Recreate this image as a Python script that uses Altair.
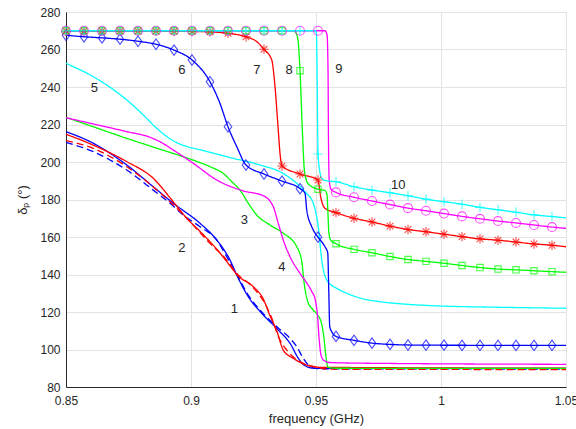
import altair as alt
import pandas as pd

# ---------------- data ----------------
# marker abscissae (GHz)
mk_x = [0.85, 0.8572, 0.8644, 0.8716, 0.8788, 0.886, 0.8932, 0.9004, 0.9076, 0.9148,
        0.922, 0.9292, 0.9364, 0.9436, 0.9508, 0.958, 0.9652, 0.9724, 0.9796, 0.9868,
        0.994, 1.0012, 1.0084, 1.0156, 1.0228, 1.03, 1.0372, 1.0444]

# curve 1 (blue solid / dashed)
c1_x = [0.85, 0.8609, 0.8743, 0.8849, 0.8929, 0.9036, 0.9103, 0.9156, 0.9183,
        0.9229, 0.9283, 0.9349, 0.9400, 0.9426, 0.9452, 0.9490, 0.96, 1.05]
c1_y = [216.2, 210.0, 198.4, 186.8, 178.0, 167.3, 158.4, 147.7, 139.7,
        128.2, 119.3, 110.4, 102.5, 96.0, 91.7, 90.0, 89.9, 89.9]
c1d_x = [0.85, 0.8609, 0.8743, 0.8849, 0.8916, 0.8969, 0.9036, 0.9103, 0.9143, 0.918,
         0.9229, 0.9283, 0.9349, 0.9396, 0.9423, 0.9449, 0.9476, 0.951, 1.05]
c1d_y = [210.5, 205.5, 195.7, 185.0, 178.0, 171.7, 165.5, 158.4, 149.5, 141.0,
         129.0, 120.0, 111.5, 106.0, 101.5, 95.3, 91.0, 89.7, 89.6]
# curve 2 (red solid / dashed)
c2_x = [0.85, 0.8609, 0.8743, 0.8849, 0.8929, 0.8983, 0.9036, 0.9103, 0.9169, 0.9183,
        0.9249, 0.9289, 0.9316, 0.9343, 0.9369, 0.9409, 0.9463, 0.9516, 1.05]
c2_y = [214.8, 209.0, 200.2, 191.3, 178.8, 170.0, 163.0, 153.5, 142.4, 140.0,
        133.5, 127.0, 118.0, 110.0, 99.7, 95.3, 91.7, 90.5, 90.0]
c2d_x = [0.85, 0.8609, 0.8743, 0.8916, 0.8983, 0.9076, 0.9143, 0.918, 0.9249, 0.9289,
         0.9316, 0.9356, 0.9383, 0.9449, 0.9489, 0.955, 1.05]
c2d_y = [211.4, 207.3, 197.5, 178.8, 170.0, 156.6, 147.7, 141.0, 133.0, 126.0,
         119.0, 105.0, 99.7, 92.6, 91.0, 89.5, 89.3]
# curve 3 (green)
c3_x = [0.85, 0.8609, 0.8743, 0.8876, 0.9009, 0.9076, 0.9129, 0.9163, 0.9196, 0.9229,
        0.9263, 0.9316, 0.9369, 0.9423, 0.9443, 0.9453, 0.9466, 0.9486, 0.9506, 0.9522,
        0.9532, 0.954, 0.9548, 0.958, 1.05]
c3_y = [223.8, 218.8, 212.6, 206.8, 201.0, 197.5, 193.9, 189.5, 185.0, 178.0,
        171.7, 166.4, 162.0, 154.8, 147.0, 135.0, 126.0, 121.5, 118.5, 114.0,
        106.0, 96.0, 90.5, 90.0, 89.9]
# curve 4 (magenta)
c4_x = [0.85, 0.8609, 0.8743, 0.8836, 0.8876, 0.8929, 0.9009, 0.9103, 0.9209, 0.9289,
        0.9329, 0.9349, 0.9369, 0.9396, 0.9436, 0.9463, 0.9483, 0.9496, 0.9506, 0.9513,
        0.952, 0.9533, 0.956, 0.976, 1.05]
c4_y = [223.6, 220.3, 216.2, 213.2, 210.8, 206.4, 199.3, 190.4, 184.6, 182.0,
        176.2, 167.3, 158.4, 149.5, 140.6, 135.5, 131.0, 127.0, 118.0, 105.0,
        97.0, 94.0, 93.0, 92.6, 92.1]
# curve 5 (cyan)
c5_x = [0.85, 0.8609, 0.8743, 0.8809, 0.8863, 0.8903, 0.8943, 0.8983, 0.9043, 0.9143,
        0.9276, 0.9356, 0.9396, 0.9436, 0.9460, 0.9489, 0.9509, 0.9523, 0.9543, 0.9583,
        0.9623, 0.968, 0.9756, 0.9876, 0.9996, 1.02, 1.05]
c5_y = [252.6, 245.5, 233.1, 225.1, 218.0, 213.6, 210.3, 208.3, 206.3, 202.8,
        198.4, 194.8, 191.5, 187.0, 183.5, 178.0, 165.5, 147.7, 137.0, 132.6,
        130.0, 127.3, 125.5, 124.0, 123.2, 122.6, 122.0]
# curve 6 (blue, diamonds)
c6_x = [0.85, 0.8572, 0.8644, 0.8716, 0.8788, 0.886, 0.8932, 0.9004, 0.9076, 0.9116,
        0.9148, 0.9183, 0.922, 0.9292, 0.9364, 0.9436, 0.9456, 0.9463, 0.9483, 0.9508,
        0.9536, 0.9547, 0.9551, 0.9555, 0.9563, 0.958, 0.9652, 0.9724, 0.9796, 0.9868,
        0.994, 1.05]
c6_y = [267.6, 266.8, 266.2, 265.5, 264.4, 262.8, 259.7, 254.4, 242.8, 231.2,
        218.8, 208.2, 198.4, 193.6, 189.8, 185.8, 183.3, 174.4, 165.5, 159.9,
        154.8, 151.5, 131.7, 112.2, 109.5, 107.0, 104.9, 103.4, 102.7, 102.4,
        102.3, 102.2]
m6_y = [267.6, 266.8, 266.2, 265.5, 264.4, 262.8, 259.7, 254.4, 242.8, 218.8,
        198.4, 193.6, 189.8, 185.8, 159.9, 107.0, 104.9, 103.4, 102.7, 102.4,
        102.3, 102.3, 102.2, 102.2, 102.2, 102.2, 102.2, 102.2]
# curve 7 (red, asterisks)
c7_x = [0.85, 0.8932, 0.9076, 0.9148, 0.922, 0.9263, 0.9292, 0.9323, 0.9336, 0.9349,
        0.9356, 0.9364, 0.9436, 0.9508, 0.9512, 0.9518, 0.9524, 0.9536, 0.958, 0.9652,
        0.9724, 0.9796, 0.9868, 0.994, 1.0012, 1.0084, 1.0156, 1.0228, 1.03, 1.0372,
        1.0444, 1.05]
c7_y = [269.9, 269.7, 269.4, 268.6, 266.8, 264.2, 260.1, 254.4, 240.2, 217.1,
        204.6, 197.9, 193.6, 190.4, 188.0, 182.0, 178.5, 175.3, 173.0, 170.0,
        168.0, 165.8, 164.0, 162.8, 161.5, 160.2, 159.0, 158.3, 157.3, 156.3,
        155.6, 154.8]
m7_y = [269.9, 269.9, 269.9, 269.8, 269.8, 269.8, 269.7, 269.6, 269.4, 268.6,
        266.8, 260.1, 197.9, 193.6, 190.4, 173.0, 170.0, 168.0, 165.8, 164.0,
        162.8, 161.5, 160.2, 159.0, 158.3, 157.3, 156.3, 155.6]
# curve 8 (green, squares)
c8_x = [0.85, 0.9364, 0.9404, 0.9416, 0.9428, 0.9436, 0.9446, 0.9454, 0.9468, 0.9508,
        0.9536, 0.9544, 0.9548, 0.9551, 0.9558, 0.958, 0.9652, 0.9724, 0.9796, 0.9868,
        0.994, 1.0012, 1.0084, 1.0156, 1.0228, 1.03, 1.0372, 1.0444, 1.05]
c8_y = [270.0, 270.0, 270.0, 269.5, 265.0, 248.7, 215.0, 195.0, 188.5, 185.5,
        184.8, 182.5, 172.0, 163.0, 158.5, 156.4, 153.4, 151.6, 149.6, 148.0,
        147.0, 146.0, 144.8, 143.7, 142.9, 142.5, 142.0, 141.5, 141.2]
m8_y = [270.0, 270.0, 270.0, 270.0, 270.0, 270.0, 270.0, 270.0, 270.0, 270.0,
        270.0, 270.0, 270.0, 248.7, 185.5, 156.4, 153.4, 151.6, 149.6, 148.0,
        147.0, 146.0, 144.8, 143.7, 142.9, 142.5, 142.0, 141.5]
# curve 9 (magenta, circles)
c9_x = [0.85, 0.9508, 0.9536, 0.9544, 0.9548, 0.955, 0.9553, 0.956, 0.958, 0.9652,
        0.9724, 0.9796, 0.9868, 0.994, 1.0012, 1.0084, 1.0156, 1.0228, 1.03, 1.0372,
        1.0444, 1.05]
c9_y = [270.0, 270.0, 270.0, 268.0, 250.0, 210.0, 190.0, 185.5, 183.8, 181.2,
        179.2, 177.3, 175.4, 174.0, 172.5, 171.0, 169.7, 168.5, 167.5, 166.4,
        165.3, 164.6]
m9_y = [270.0, 270.0, 270.0, 270.0, 270.0, 270.0, 270.0, 270.0, 270.0, 270.0,
        270.0, 270.0, 270.0, 270.0, 270.0, 183.8, 181.2, 179.2, 177.3, 175.4,
        174.0, 172.5, 171.0, 169.7, 168.5, 167.5, 166.4, 165.3]
# curve 10 (cyan, plus)
c10_x = [0.85, 0.9436, 0.9498, 0.9502, 0.9505, 0.9508, 0.9514, 0.9522, 0.954, 0.958,
         0.9652, 0.9724, 0.9796, 0.9868, 0.994, 1.0012, 1.0084, 1.0156, 1.0228, 1.03,
         1.0372, 1.0444, 1.05]
c10_y = [270.0, 270.0, 270.0, 268.0, 240.0, 204.3, 196.0, 191.5, 190.0, 189.5,
         186.8, 185.0, 183.6, 182.0, 180.2, 178.8, 177.5, 175.8, 174.5, 173.2,
         171.8, 170.9, 170.2]
m10_y = [270.0, 270.0, 270.0, 270.0, 270.0, 270.0, 270.0, 270.0, 270.0, 270.0,
         270.0, 270.0, 270.0, 270.0, 204.3, 189.5, 186.8, 185.0, 183.6, 182.0,
         180.2, 178.8, 177.5, 175.8, 174.5, 173.2, 171.8, 170.9]

# curve labels
lab_text = ["1", "2", "3", "4", "5", "6", "7", "8", "9", "10"]
lab_x = [0.9173, 0.8963, 0.9213, 0.9363, 0.8613, 0.8963, 0.9263, 0.9392, 0.9591, 0.9829]
lab_y = [121.6, 154.3, 169.1, 144.2, 239.3, 249.1, 249.1, 249.1, 249.4, 187.7]

x_ticks = [0.85, 0.9, 0.95, 1.0, 1.05]
y_ticks = [80, 100, 120, 140, 160, 180, 200, 220, 240, 260, 280]

# ---------------- frames ----------------
BLUE, RED, GREEN, MAG, CYAN = "#0000ff", "#ff0000", "#00ff00", "#ff00ff", "#00ffff"
line_specs = [
    ("1", c1_x, c1_y, "solid", BLUE), ("1d", c1d_x, c1d_y, "dash", BLUE),
    ("2", c2_x, c2_y, "solid", RED), ("2d", c2d_x, c2d_y, "dash", RED),
    ("3", c3_x, c3_y, "solid", GREEN), ("4", c4_x, c4_y, "solid", MAG),
    ("5", c5_x, c5_y, "solid", CYAN), ("6", c6_x, c6_y, "solid", BLUE),
    ("7", c7_x, c7_y, "solid", RED), ("8", c8_x, c8_y, "solid", GREEN),
    ("9", c9_x, c9_y, "solid", MAG), ("10", c10_x, c10_y, "solid", CYAN),
]
rows = []
for i, (name, xs, ys, sty, col) in enumerate(line_specs):
    for j, (xv, yv) in enumerate(zip(xs, ys)):
        rows.append({"series": name, "order": i, "idx": j, "x": xv, "y": yv, "style": sty})
lines_df = pd.DataFrame(rows)
series_dom = [s[0] for s in line_specs]
series_col = [s[4] for s in line_specs]

DIAMOND = "M0,-1L0.72,0L0,1L-0.72,0Z"
ASTER = "M-1,0L1,0M0,-1L0,1M-0.7,-0.7L0.7,0.7M-0.7,0.7L0.7,-0.7"
SQUARE = "M-1,-1L1,-1L1,1L-1,1Z"
PLUS = "M-1,0L1,0M0,-1L0,1"
mk_specs = [("6", m6_y, DIAMOND, 110), ("7", m7_y, ASTER, 90), ("8", m8_y, SQUARE, 40),
            ("9", m9_y, "circle", 80), ("10", m10_y, PLUS, 90)]

xsc = alt.Scale(domain=[0.85, 1.05], nice=False, zero=False)
ysc = alt.Scale(domain=[80, 280], nice=False, zero=False)

x_axis = alt.Axis(values=x_ticks, format="~g", grid=True, tickSize=0,
                  labelPadding=8, titlePadding=6, labelFlush=False, labelOverlap=False)
y_axis = alt.Axis(values=y_ticks, grid=True, tickSize=0, labelPadding=6,
                  titlePadding=10, labelOverlap=False, labelFlush=False)


def X():
    return alt.X("x:Q", scale=xsc, title="frequency (GHz)", axis=x_axis)


def Y():
    return alt.Y("y:Q", scale=ysc, title="δₚ (°)", axis=y_axis)


lines = alt.Chart(lines_df).mark_line(strokeWidth=1.3, interpolate="monotone", clip=True).encode(
    x=X(), y=Y(),
    color=alt.Color("series:N", scale=alt.Scale(domain=series_dom, range=series_col), legend=None),
    strokeDash=alt.StrokeDash("style:N", scale=alt.Scale(domain=["solid", "dash"],
                                                          range=[[1, 0], [7, 4]]), legend=None),
    detail="series:N",
    order="idx:Q",
)

layers = [lines]
col_of = dict(zip(series_dom, series_col))
for name, ys, shape, size in mk_specs:
    dfm = pd.DataFrame({"x": mk_x, "y": ys})
    layers.append(alt.Chart(dfm).mark_point(shape=shape, size=size, filled=False,
                                            stroke=col_of[name], strokeWidth=1.1).encode(
        x=X(), y=Y()))

lab_df = pd.DataFrame({"t": lab_text, "x": lab_x, "y": lab_y})
layers.append(alt.Chart(lab_df).mark_text(font="Liberation Sans", fontSize=13, color="#262626").encode(
    x=X(), y=Y(), text="t:N"))

chart = alt.layer(*layers).properties(
    width=500, height=375,
    autosize=alt.AutoSizeParams(type="none"),
    padding={"left": 66, "top": 12, "right": 10, "bottom": 42},
).configure_view(strokeWidth=0).configure_axis(
    labelFont="Liberation Sans", labelFontSize=12, labelColor="#262626",
    titleFont="Liberation Sans", titleFontSize=13, titleColor="#262626", titleFontWeight="normal",
    domainColor="#262626", domainWidth=1, gridColor="#e3e3e3", gridWidth=1,
)

chart.save("out.html", embed_options={"renderer": "svg", "actions": False})
